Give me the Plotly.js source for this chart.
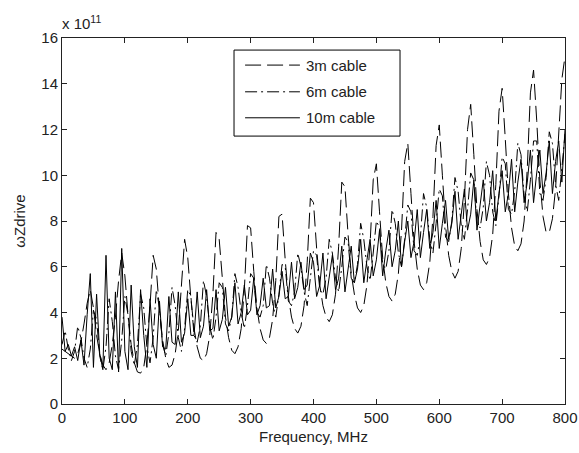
<!DOCTYPE html>
<html>
<head>
<meta charset="utf-8">
<script src="https://cdn.plot.ly/plotly-3.0.1.min.js"></script>
<style>html,body{margin:0;padding:0;background:#fff;}#chart{width:579px;height:453px;}</style>
</head>
<body>
<div id="chart"></div>
<script>
// Frequency grid (MHz), 5 MHz steps from 0 to 800
var freqStart = 0, freqStep = 5, freqCount = 161;
var freq = [];
for (var i = 0; i < freqCount; i++) freq.push(freqStart + i * freqStep);

var seriesNames = ["3m cable", "6m cable", "10m cable"];

// omega*Zdrive, units of 1e11
var cable3m = [
 2.4,2.3,2.2,2.1,2.0,2.2,2.7,3.5,4.4,5.0,
 4.2,3.0,2.2,1.7,1.5,1.8,2.6,3.8,5.4,6.6,
 5.6,3.9,2.6,1.8,1.4,1.35,1.6,2.6,4.3,6.5,
 5.9,4.1,2.8,2.0,1.6,1.7,2.2,3.2,5.0,7.2,
 6.4,4.6,3.3,2.5,2.0,1.9,2.2,3.0,4.8,7.5,
 7.2,5.3,3.8,2.9,2.35,2.2,2.5,3.3,5.0,7.8,
 7.7,5.8,4.2,3.3,2.8,2.65,2.9,3.7,5.4,8.2,
 8.3,6.3,4.7,3.8,3.3,3.1,3.4,4.3,6.2,9.0,
 8.8,6.8,5.2,4.3,3.8,3.6,3.9,4.8,6.9,9.7,
 9.5,7.4,5.7,4.8,4.2,4.0,4.3,5.2,7.0,9.8,
 10.5,8.4,6.4,5.3,4.7,4.5,4.8,5.7,7.6,10.6,
 11.4,9.2,7.1,5.9,5.2,5.0,5.3,6.2,8.2,11.3,
 12.2,10.0,7.8,6.5,5.8,5.5,5.8,6.8,8.9,12.0,
 13.1,10.9,8.5,7.1,6.3,6.1,6.4,7.4,9.6,12.8,
 13.8,11.6,9.2,7.7,6.9,6.7,7.0,8.0,10.3,13.6,
 14.6,12.4,9.8,8.2,7.5,7.5,8.1,9.4,11.6,14.2,
 15.2
];

var cable6m = [
 2.6,3.2,2.4,1.9,2.3,3.4,2.9,2.0,1.6,2.4,
 4.1,3.7,2.1,1.5,2.5,4.6,3.6,2.1,1.5,2.8,
 4.7,3.9,2.3,1.7,2.6,4.8,4.2,2.5,1.8,2.9,
 5.0,4.2,2.6,2.1,3.1,5.1,4.3,2.9,2.3,3.3,
 5.0,4.7,3.0,2.7,3.4,5.4,4.7,3.4,2.8,3.8,
 5.3,5.1,3.5,3.2,3.8,5.7,5.1,4.0,3.3,4.3,
 5.7,5.5,4.0,3.8,4.3,6.1,5.5,4.4,3.8,4.8,
 6.1,6.0,4.5,4.3,4.9,6.6,6.0,4.9,4.3,5.4,
 6.7,6.5,5.0,4.8,5.5,7.2,6.6,5.5,4.9,6.0,
 7.3,7.1,5.5,5.3,6.1,7.9,7.2,6.0,5.4,6.6,
 8.0,7.7,6.1,5.9,6.7,8.5,7.9,6.6,6.0,7.2,
 8.7,8.4,6.7,6.5,7.3,9.2,8.6,7.2,6.6,7.9,
 9.4,9.1,7.3,7.1,8.0,9.9,9.3,7.8,7.2,8.5,
 10.1,9.8,7.9,7.7,8.6,10.6,10.0,8.4,7.8,9.1,
 10.8,10.5,8.5,8.3,9.3,11.4,10.9,9.1,8.4,9.8,
 11.5,11.5,9.2,8.9,9.9,11.9,11.4,9.6,8.9,10.3,
 11.8
];

var cable10m = [
 3.8,2.3,2.6,2.1,2.5,1.9,2.8,1.7,3.9,5.7,
 1.6,4.8,2.2,1.5,6.5,2.0,1.5,4.9,1.4,6.8,
 2.3,1.5,5.2,2.5,1.6,5.0,3.0,1.6,4.6,2.6,
 2.0,4.5,2.5,2.4,4.7,2.7,2.6,4.9,2.7,3.1,
 4.6,3.0,3.0,4.9,2.9,3.4,5.0,3.2,3.3,5.0,
 3.2,3.7,5.1,3.4,3.8,5.3,3.5,4.0,5.2,3.9,
 4.1,5.5,3.9,4.3,5.5,4.2,4.3,5.9,4.2,4.7,
 5.8,4.6,4.7,6.2,4.6,5.1,6.2,5.0,5.2,6.6,
 6.2,4.7,5.2,6.6,4.6,5.6,6.5,5.0,5.5,6.9,
 4.9,5.9,6.9,5.3,5.9,7.2,5.3,6.3,7.2,5.6,
 6.3,7.6,5.6,6.7,7.6,6.0,6.7,8.0,6.0,7.1,
 8.0,6.4,7.1,8.5,6.4,7.5,8.5,6.8,7.5,8.9,
 6.8,7.9,8.9,7.2,7.9,9.3,7.2,8.3,9.4,7.6,
 8.3,9.8,7.6,8.7,9.8,8.0,8.8,10.2,8.0,9.2,
 10.2,8.4,9.2,10.7,8.4,9.7,10.7,8.8,9.7,11.1,
 8.8,10.1,11.1,9.2,10.1,11.5,9.2,10.6,11.5,9.7,
 12.0
];

var xTicks = [0,100,200,300,400,500,600,700,800];
var yTicks = [0,2,4,6,8,10,12,14,16];

var font = "Liberation Sans, Arial, Helvetica, sans-serif";
var txt = "#222";
var fs = 15;

var dashes = ["16px,6px", "12px,4px,2px,4px", "solid"];
var series = [cable3m, cable6m, cable10m];

var traces = series.map(function (vals, k) {
  return {x: freq, y: vals, name: seriesNames[k], mode: "lines", showlegend: false,
          line: {color: "#000", width: 1, dash: dashes[k]}};
});

// Manual legend box (MATLAB style: long line samples)
var legX0 = 0.342, legX1 = 0.672, legYTop = 0.967, legYBot = 0.732;
var legRowY = [0.926, 0.853, 0.782];
var legLineX0 = 0.364, legLineX1 = 0.473, legTextX = 0.482;

var shapes = [{type: "rect", xref: "paper", yref: "paper", x0: legX0, x1: legX1, y0: legYBot, y1: legYTop,
               line: {color: "#000", width: 1}, fillcolor: "#fff", layer: "above"}];
var annotations = [];
seriesNames.forEach(function (nm, k) {
  shapes.push({type: "line", xref: "paper", yref: "paper", x0: legLineX0, x1: legLineX1,
               y0: legRowY[k], y1: legRowY[k], line: {color: "#000", width: 1, dash: dashes[k]}, layer: "above"});
  annotations.push({xref: "paper", yref: "paper", x: legTextX, y: legRowY[k], xanchor: "left", yanchor: "middle",
                    showarrow: false, text: nm, font: {family: font, size: fs, color: txt}});
});
annotations.push({
  xref: "paper", yref: "paper", x: -0.004, y: 1.0, xanchor: "left", yanchor: "bottom",
  yshift: 4, showarrow: false, text: "x 10<sup>11</sup>",
  font: {family: font, size: fs, color: txt}
});

var axisCommon = {
  showgrid: false, zeroline: false, showline: true, linecolor: "#222", linewidth: 1,
  mirror: "ticks", ticks: "inside", ticklen: 5, tickcolor: "#222",
  tickfont: {family: font, size: fs, color: txt}
};

var layout = {
  width: 579, height: 453,
  margin: {l: 62, r: 14, t: 38, b: 49},
  paper_bgcolor: "#fff", plot_bgcolor: "#fff",
  font: {family: font, size: fs, color: txt},
  showlegend: false,
  xaxis: Object.assign({}, axisCommon, {
    range: [0, 800], tickvals: xTicks, ticktext: xTicks.map(String),
    title: {text: "Frequency, MHz", font: {family: font, size: fs, color: txt}, standoff: 6}
  }),
  yaxis: Object.assign({}, axisCommon, {
    range: [0, 16], tickvals: yTicks, ticktext: yTicks.map(String),
    title: {text: "ωZdrive", font: {family: font, size: fs, color: txt}, standoff: 12}
  }),
  shapes: shapes,
  annotations: annotations
};

Plotly.newPlot("chart", traces, layout, {displayModeBar: false, staticPlot: true});
</script>
</body>
</html>
